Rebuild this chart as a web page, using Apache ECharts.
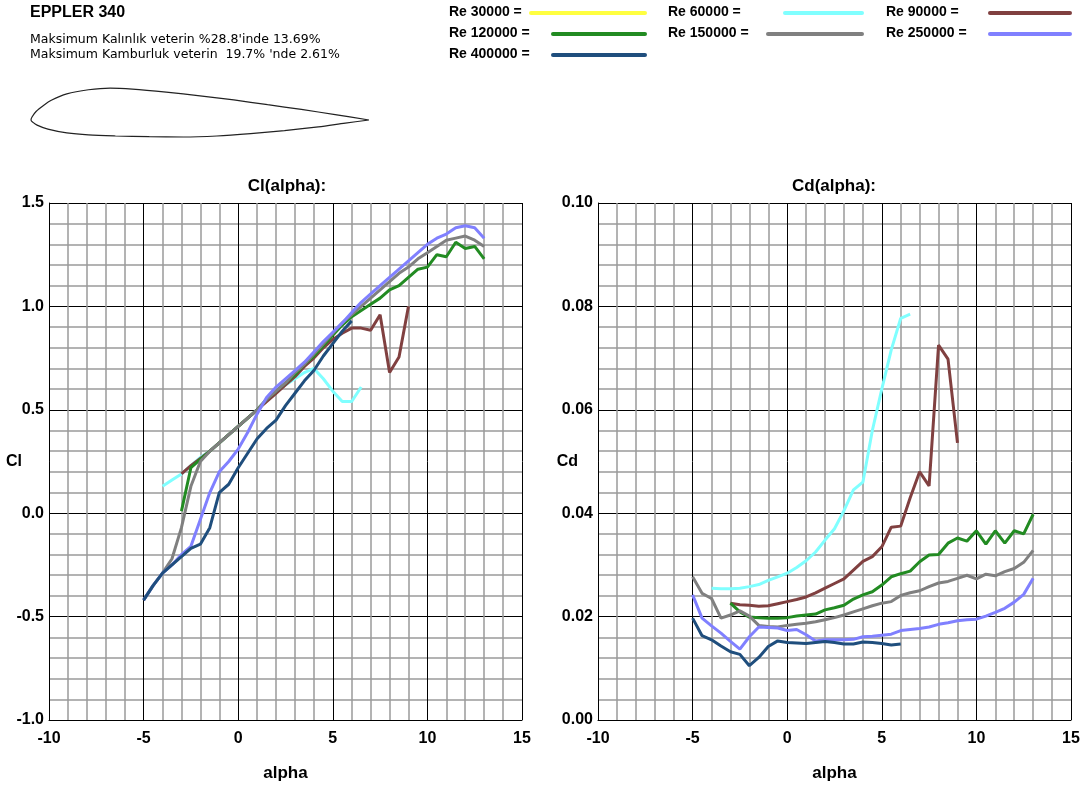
<!DOCTYPE html>
<html>
<head>
<meta charset="utf-8">
<script src="https://cdn.jsdelivr.net/npm/echarts@6/dist/echarts.min.js"></script>
<style>
  html, body { margin: 0; padding: 0; background: #fff; }
  #main { width: 1092px; height: 791px; }
</style>
</head>
<body>
<div id="main"></div>
<script>
const reNames = ['Re 30000', 'Re 60000', 'Re 90000', 'Re 120000', 'Re 150000', 'Re 250000', 'Re 400000']
const reColors = ['#ffff40', '#80ffff', '#804040', '#228b22', '#808080', '#8080ff', '#1f4e7d']

// Re 30000 has no points in the plots
const alpha30 = []
const cl30 = []
const cd30 = []

const alpha60 = [-4, -3.5, -3, -2.5, -2, -1.5, -1, -0.5, 0, 0.5, 1, 1.5, 2, 2.5, 3, 3.5, 4, 4.5, 5, 5.5, 6, 6.5]
const cl60 = [0.13, 0.16, 0.19, 0.23, 0.27, 0.30, 0.34, 0.38, 0.42, 0.46, 0.50, 0.55, 0.59, 0.62, 0.65, 0.68, 0.70, 0.65, 0.59, 0.54, 0.54, 0.61]
const cd60 = [0.0255, 0.0254, 0.0254, 0.0255, 0.0258, 0.0262, 0.027, 0.0277, 0.0284, 0.0295, 0.0308, 0.0325, 0.0348, 0.037, 0.0405, 0.0445, 0.046, 0.056, 0.064, 0.0716, 0.0777, 0.0785]

const alpha90 = [-3, -2.5, -2, -1.5, -1, -0.5, 0, 0.5, 1, 1.5, 2, 2.5, 3, 3.5, 4, 4.5, 5, 5.5, 6, 6.5, 7, 7.5, 8, 8.5, 9]
const cl90 = [0.19, 0.23, 0.265, 0.30, 0.34, 0.38, 0.42, 0.46, 0.50, 0.54, 0.58, 0.62, 0.66, 0.71, 0.75, 0.80, 0.84, 0.87, 0.895, 0.895, 0.885, 0.96, 0.68, 0.755, 1.00]
const cd90 = [0.0226, 0.0223, 0.0222, 0.022, 0.0221, 0.0225, 0.0229, 0.0233, 0.0238, 0.0246, 0.0255, 0.0264, 0.0273, 0.029, 0.0307, 0.0316, 0.0335, 0.0373, 0.0375, 0.043, 0.048, 0.0453, 0.0725, 0.0698, 0.0536]

const alpha120 = [-3, -2.5, -2, -1.5, -1, -0.5, 0, 0.5, 1, 1.5, 2, 2.5, 3, 3.5, 4, 4.5, 5, 5.5, 6, 6.5, 7, 7.5, 8, 8.5, 9, 9.5, 10, 10.5, 11, 11.5, 12, 12.5, 13]
const cl120 = [0.01, 0.22, 0.26, 0.30, 0.34, 0.38, 0.42, 0.46, 0.50, 0.55, 0.59, 0.63, 0.67, 0.72, 0.76, 0.81, 0.86, 0.91, 0.95, 0.98, 1.01, 1.04, 1.08, 1.10, 1.14, 1.18, 1.19, 1.25, 1.24, 1.31, 1.28, 1.29, 1.23]
const cd120 = [0.0226, 0.0209, 0.0199, 0.0198, 0.0197, 0.0197, 0.0198, 0.0201, 0.0203, 0.0205, 0.0213, 0.0217, 0.0222, 0.0234, 0.0242, 0.0248, 0.0261, 0.0277, 0.0283, 0.0288, 0.0306, 0.0319, 0.032, 0.0342, 0.0352, 0.0346, 0.0366, 0.034, 0.0366, 0.0342, 0.0366, 0.036, 0.0398]

const alpha150 = [-5, -4.5, -4, -3.5, -3, -2.5, -2, -1.5, -1, -0.5, 0, 0.5, 1, 1.5, 2, 2.5, 3, 3.5, 4, 4.5, 5, 5.5, 6, 6.5, 7, 7.5, 8, 8.5, 9, 9.5, 10, 10.5, 11, 11.5, 12, 12.5, 13]
const cl150 = [-0.42, -0.35, -0.29, -0.22, -0.07, 0.13, 0.25, 0.30, 0.34, 0.38, 0.42, 0.46, 0.50, 0.55, 0.59, 0.63, 0.68, 0.72, 0.77, 0.82, 0.87, 0.92, 0.96, 1.00, 1.04, 1.08, 1.12, 1.16, 1.19, 1.23, 1.26, 1.29, 1.32, 1.33, 1.34, 1.32, 1.29]
const cd150 = [0.0277, 0.0245, 0.0235, 0.0197, 0.0203, 0.0211, 0.0201, 0.0183, 0.0181, 0.018, 0.0183, 0.0185, 0.0187, 0.019, 0.0194, 0.0198, 0.0203, 0.0209, 0.0215, 0.0221, 0.0226, 0.0229, 0.0241, 0.0246, 0.025, 0.0258, 0.0265, 0.0268, 0.0274, 0.028, 0.0273, 0.0282, 0.0279, 0.0287, 0.0293, 0.0305, 0.0328]

const alpha250 = [-5, -4.5, -4, -3.5, -3, -2.5, -2, -1.5, -1, -0.5, 0, 0.5, 1, 1.5, 2, 2.5, 3, 3.5, 4, 4.5, 5, 5.5, 6, 6.5, 7, 7.5, 8, 8.5, 9, 9.5, 10, 10.5, 11, 11.5, 12, 12.5, 13]
const cl250 = [-0.42, -0.35, -0.29, -0.25, -0.20, -0.16, -0.03, 0.10, 0.20, 0.25, 0.31, 0.39, 0.48, 0.56, 0.61, 0.65, 0.69, 0.73, 0.78, 0.83, 0.875, 0.92, 0.97, 1.02, 1.06, 1.10, 1.14, 1.18, 1.22, 1.26, 1.30, 1.33, 1.35, 1.38, 1.39, 1.38, 1.33]
const cd250 = [0.0242, 0.0197, 0.0182, 0.0168, 0.0152, 0.0137, 0.0161, 0.018, 0.0179, 0.0178, 0.0173, 0.0175, 0.0165, 0.0153, 0.0155, 0.0155, 0.0155, 0.0156, 0.0161, 0.0162, 0.0164, 0.0166, 0.0173, 0.0175, 0.0177, 0.018, 0.0185, 0.0188, 0.0192, 0.0194, 0.0195, 0.0201, 0.0208, 0.0216, 0.0228, 0.0243, 0.0274]

const alpha400 = [-5, -4.5, -4, -3.5, -3, -2.5, -2, -1.5, -1, -0.5, 0, 0.5, 1, 1.5, 2, 2.5, 3, 3.5, 4, 4.5, 5, 5.5, 6]
const cl400 = [-0.42, -0.35, -0.29, -0.25, -0.21, -0.17, -0.15, -0.07, 0.10, 0.14, 0.22, 0.29, 0.36, 0.41, 0.45, 0.52, 0.58, 0.64, 0.69, 0.76, 0.82, 0.88, 0.93]
const cd400 = [0.0197, 0.0163, 0.0155, 0.0143, 0.0132, 0.0127, 0.0105, 0.0121, 0.0142, 0.0153, 0.015, 0.0149, 0.0148, 0.015, 0.0152, 0.015, 0.0147, 0.0147, 0.0151, 0.015, 0.0148, 0.0145, 0.0147]

// airfoil outline, trailing edge -> upper side -> leading edge -> lower side
const airfoilX = [1.0, 0.9, 0.8, 0.7, 0.6, 0.5, 0.4, 0.3, 0.234, 0.17, 0.106, 0.06, 0.036, 0.015, 0.003, 0, 0.006, 0.018, 0.05, 0.106, 0.17, 0.25, 0.35, 0.45, 0.55, 0.65, 0.75, 0.85, 0.93, 1.0]
const airfoilY = [0.0, 0.016, 0.031, 0.045, 0.059, 0.071, 0.082, 0.091, 0.094, 0.089, 0.077, 0.058, 0.042, 0.025, 0.009, 0, -0.007, -0.015, -0.027, -0.038, -0.044, -0.047, -0.049, -0.05, -0.047, -0.04, -0.031, -0.02, -0.009, 0.0]

const alphaSets = [alpha30, alpha60, alpha90, alpha120, alpha150, alpha250, alpha400]
const clSets = [cl30, cl60, cl90, cl120, cl150, cl250, cl400]
const cdSets = [cd30, cd60, cd90, cd120, cd150, cd250, cd400]

const FONT = 'Liberation Sans, Arial, sans-serif'

function pairs(xs, ys) {
  return xs.map((x, i) => [x, ys[i]])
}

function makeXAxis(gridIndex) {
  return {
    type: 'value',
    gridIndex: gridIndex,
    min: -10,
    max: 15,
    interval: 5,
    name: 'alpha',
    nameLocation: 'middle',
    nameGap: 45,
    nameMoveOverlap: false,
    nameTextStyle: { color: '#000', fontWeight: 'bold', fontSize: 17, fontFamily: FONT },
    axisLine: { show: true, onZero: false, lineStyle: { color: '#000', width: 1 } },
    axisTick: { show: false },
    axisLabel: { color: '#000', fontWeight: 'bold', fontSize: 16, fontFamily: FONT, margin: 11 },
    splitLine: { show: true, lineStyle: { color: '#000', width: 1 } },
    minorTick: { show: false, splitNumber: 5 },
    minorSplitLine: { show: true, lineStyle: { color: '#9a9a9a', width: 1.5 } }
  }
}

function makeYAxis(gridIndex, name, min, max, interval, digits, gap) {
  return {
    type: 'value',
    gridIndex: gridIndex,
    min: min,
    max: max,
    interval: interval,
    name: name,
    nameLocation: 'middle',
    nameRotate: 0,
    nameGap: gap,
    nameMoveOverlap: false,
    nameTextStyle: { color: '#000', fontWeight: 'bold', fontSize: 16, fontFamily: FONT },
    axisLine: { show: true, onZero: false, lineStyle: { color: '#000', width: 1 } },
    axisTick: { show: false },
    axisLabel: {
      color: '#000', fontWeight: 'bold', fontSize: 16, fontFamily: FONT, margin: 5,
      formatter: v => v.toFixed(digits)
    },
    splitLine: { show: true, lineStyle: { color: '#000', width: 1 } },
    minorTick: { show: false, splitNumber: 5 },
    minorSplitLine: { show: true, lineStyle: { color: '#9a9a9a', width: 1.5 } }
  }
}

const series = []
for (let i = 0; i < reNames.length; i++) {
  series.push({
    name: reNames[i] + ' Cl',
    type: 'line',
    xAxisIndex: 0,
    yAxisIndex: 0,
    data: pairs(alphaSets[i], clSets[i]),
    showSymbol: false,
    lineStyle: { color: reColors[i], width: 3 },
    itemStyle: { color: reColors[i] }
  })
  series.push({
    name: reNames[i] + ' Cd',
    type: 'line',
    xAxisIndex: 1,
    yAxisIndex: 1,
    data: pairs(alphaSets[i], cdSets[i]),
    showSymbol: false,
    lineStyle: { color: reColors[i], width: 3 },
    itemStyle: { color: reColors[i] }
  })
}
series.push({
  name: 'airfoil',
  type: 'line',
  xAxisIndex: 2,
  yAxisIndex: 2,
  data: pairs(airfoilX, airfoilY),
  showSymbol: false,
  smooth: 0.3,
  lineStyle: { color: '#222', width: 1.2 }
})

// legend drawn by hand: "Re xxx =" followed by a line sample
const legendX = [449, 668, 886, 449, 668, 886, 449]
const legendY = [12, 12, 12, 33, 33, 33, 54]
const legendLineStart = [531, 785, 990, 553, 768, 990, 553]
const legendLineEnd = [645, 862, 1070, 645, 862, 1070, 645]
const graphic = []
for (let i = 0; i < reNames.length; i++) {
  graphic.push({
    type: 'text',
    x: legendX[i],
    y: legendY[i],
    style: { text: reNames[i] + ' =', font: 'bold 14px ' + FONT, fill: '#000', verticalAlign: 'middle' }
  })
  graphic.push({
    type: 'line',
    shape: { x1: legendLineStart[i], y1: legendY[i] + 1, x2: legendLineEnd[i], y2: legendY[i] + 1 },
    style: { stroke: reColors[i], lineWidth: 4, lineCap: 'round' }
  })
}

const chart = echarts.init(document.getElementById('main'), null, { renderer: 'canvas' })
chart.setOption({
  backgroundColor: '#fff',
  animation: false,
  title: [
    { text: 'EPPLER 340', left: 30, top: 5, padding: 0, textStyle: { color: '#000', fontWeight: 'bold', fontSize: 16, fontFamily: FONT } },
    {
      text: 'Maksimum Kalınlık veterin %28.8\'inde 13.69%\nMaksimum Kamburluk veterin  19.7% \'nde 2.61%',
      left: 30, top: 32, padding: 0,
      textStyle: { color: '#000', fontWeight: 'normal', fontSize: 12.5, lineHeight: 15, fontFamily: 'DejaVu Sans, Verdana, sans-serif' }
    },
    { text: 'Cl(alpha):', left: 287, top: 178, padding: 0, textAlign: 'center', textStyle: { color: '#000', fontWeight: 'bold', fontSize: 17, fontFamily: FONT } },
    { text: 'Cd(alpha):', left: 834, top: 178, padding: 0, textAlign: 'center', textStyle: { color: '#000', fontWeight: 'bold', fontSize: 17, fontFamily: FONT } }
  ],
  grid: [
    { left: 49, top: 203, width: 473, height: 517, outerBoundsMode: 'none' },
    { left: 598, top: 203, width: 473, height: 517, outerBoundsMode: 'none' },
    { left: 31, top: 86, width: 338, height: 68, outerBoundsMode: 'none' }
  ],
  xAxis: [
    makeXAxis(0),
    makeXAxis(1),
    { type: 'value', gridIndex: 2, min: 0, max: 1, show: false }
  ],
  yAxis: [
    makeYAxis(0, 'Cl', -1, 1.5, 0.5, 1, 27),
    makeYAxis(1, 'Cd', 0, 0.1, 0.02, 2, 20),
    { type: 'value', gridIndex: 2, min: -0.1, max: 0.1, show: false }
  ],
  graphic: graphic,
  series: series
})
</script>
</body>
</html>
